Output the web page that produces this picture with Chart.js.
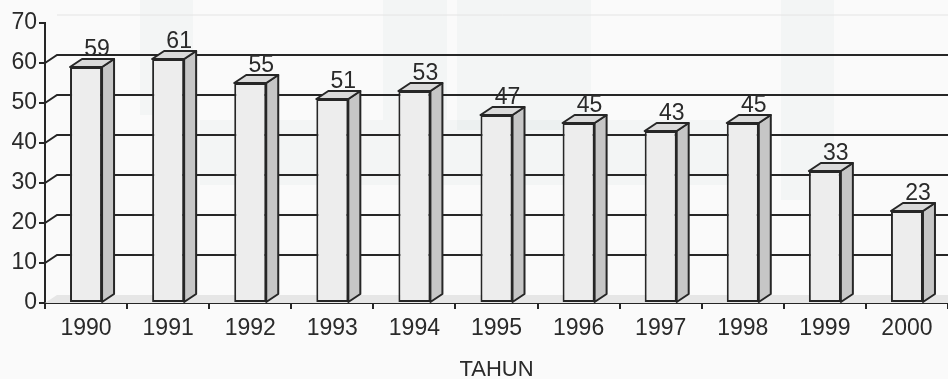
<!DOCTYPE html>
<html>
<head>
<meta charset="utf-8">
<script src="https://cdn.jsdelivr.net/npm/chart.js@4/dist/chart.umd.min.js"></script>
<style>
  html, body { margin: 0; padding: 0; background: #fafafa; }
  #wrap { width: 948px; height: 379px; position: relative; }
</style>
</head>
<body>
<div id="wrap"><canvas id="tahunChart"></canvas></div>
<script>
// Data per tahun
const years = ['1990', '1991', '1992', '1993', '1994', '1995', '1996', '1997', '1998', '1999', '2000'];
const values = [59, 61, 55, 51, 53, 47, 45, 43, 45, 33, 23];
const yTicks = [0, 10, 20, 30, 40, 50, 60, 70];

// 3D depth of the bars and back wall
const DX = 12;
const DY = 8;
const INK = '#262626';
const TEXT = '#2a2a2a';
const FONT = 'Arial, "Liberation Sans", sans-serif';

// faint background logo bands
const backdrop = {
    id: 'backdrop',
    beforeDraw(chart) {
        const ctx = chart.ctx;
        ctx.save();
        ctx.fillStyle = '#fafafa';
        ctx.fillRect(0, 0, chart.width, chart.height);
        ctx.fillStyle = 'rgba(160, 190, 185, 0.07)';
        ctx.fillRect(140, 0, 53, 115);
        ctx.fillRect(383, 0, 64, 120);
        ctx.fillRect(457, 0, 134, 130);
        ctx.fillRect(781, 0, 53, 200);
        ctx.fillRect(200, 120, 570, 65);
        ctx.restore();
    }
};

// back wall gridlines, side-wall diagonals and floor
const wall = {
    id: 'wall',
    beforeDatasetsDraw(chart) {
        const ctx = chart.ctx;
        const y = chart.scales.y;
        const { left, right } = chart.chartArea;
        const y0 = y.getPixelForValue(0);
        ctx.save();
        // floor
        ctx.fillStyle = '#e6e6e6';
        ctx.beginPath();
        ctx.moveTo(left, y0);
        ctx.lineTo(left + DX, y0 - DY);
        ctx.lineTo(right, y0 - DY);
        ctx.lineTo(right, y0);
        ctx.closePath();
        ctx.fill();

        yTicks.forEach(v => {
            if (v === 0) return;
            const py = y.getPixelForValue(v);
            if (v === yTicks[yTicks.length - 1]) {
                ctx.strokeStyle = '#e4e4e4';
                ctx.lineWidth = 1;
                ctx.beginPath();
                ctx.moveTo(left + DX, py - DY);
                ctx.lineTo(right, py - DY);
                ctx.stroke();
                return;
            }
            ctx.strokeStyle = INK;
            ctx.lineWidth = 2;
            ctx.beginPath();
            ctx.moveTo(left, py);
            ctx.lineTo(left + DX, py - DY);
            ctx.lineTo(right, py - DY);
            ctx.stroke();
        });
        ctx.restore();
    },
    afterDatasetsDraw(chart) {
        const ctx = chart.ctx;
        const meta = chart.getDatasetMeta(0);
        ctx.save();
        ctx.lineWidth = 2;
        ctx.strokeStyle = INK;
        ctx.lineJoin = 'round';
        meta.data.forEach((bar, i) => {
            const { x, y, base, width } = bar.getProps(['x', 'y', 'base', 'width'], true);
            const l = x - width / 2;
            const r = x + width / 2;
            // side face
            ctx.fillStyle = '#c6c6c6';
            ctx.beginPath();
            ctx.moveTo(r, y);
            ctx.lineTo(r + DX, y - DY);
            ctx.lineTo(r + DX, base - DY);
            ctx.lineTo(r, base);
            ctx.closePath();
            ctx.fill();
            ctx.stroke();
            // top face
            ctx.fillStyle = '#dadada';
            ctx.beginPath();
            ctx.moveTo(l, y);
            ctx.lineTo(l + DX, y - DY);
            ctx.lineTo(r + DX, y - DY);
            ctx.lineTo(r, y);
            ctx.closePath();
            ctx.fill();
            ctx.stroke();
            // value label
            ctx.fillStyle = TEXT;
            ctx.font = '23px ' + FONT;
            ctx.textAlign = 'center';
            ctx.textBaseline = 'alphabetic';
            ctx.fillText(String(values[i]), x + DX - 1, y - 11.5);
        });
        ctx.restore();
    }
};

new Chart(document.getElementById('tahunChart'), {
    type: 'bar',
    data: {
        labels: years,
        datasets: [{
            data: values,
            backgroundColor: '#ededed',
            borderColor: INK,
            borderWidth: 2,
            borderSkipped: false,
            categoryPercentage: 1,
            barPercentage: 0.39
        }]
    },
    options: {
        responsive: true,
        maintainAspectRatio: false,
        animation: false,
        layout: { padding: { top: 23, left: 0, right: 0, bottom: 0 } },
        plugins: {
            legend: { display: false },
            tooltip: { enabled: false }
        },
        scales: {
            x: {
                afterFit: s => { s.height = 76; },
                grid: {
                    drawOnChartArea: false,
                    drawTicks: true,
                    tickLength: 6,
                    color: INK,
                    lineWidth: 2
                },
                border: { display: true, color: INK, width: 2 },
                ticks: {
                    color: TEXT,
                    font: { family: FONT, size: 23 },
                    padding: 6,
                    maxRotation: 0
                },
                title: {
                    display: true,
                    text: 'TAHUN',
                    color: TEXT,
                    font: { family: FONT, size: 22 },
                    padding: { top: 0, bottom: -4 }
                }
            },
            y: {
                min: 0,
                max: 70,
                afterFit: s => { s.width = 45; },
                afterBuildTicks: s => { s.ticks = yTicks.map(v => ({ value: v })); },
                grid: {
                    drawOnChartArea: false,
                    drawTicks: true,
                    tickLength: 6,
                    color: INK,
                    lineWidth: 2
                },
                border: { display: true, color: INK, width: 2 },
                ticks: {
                    color: TEXT,
                    font: { family: FONT, size: 23 },
                    padding: 2
                }
            }
        }
    },
    plugins: [backdrop, wall]
});
</script>
</body>
</html>
